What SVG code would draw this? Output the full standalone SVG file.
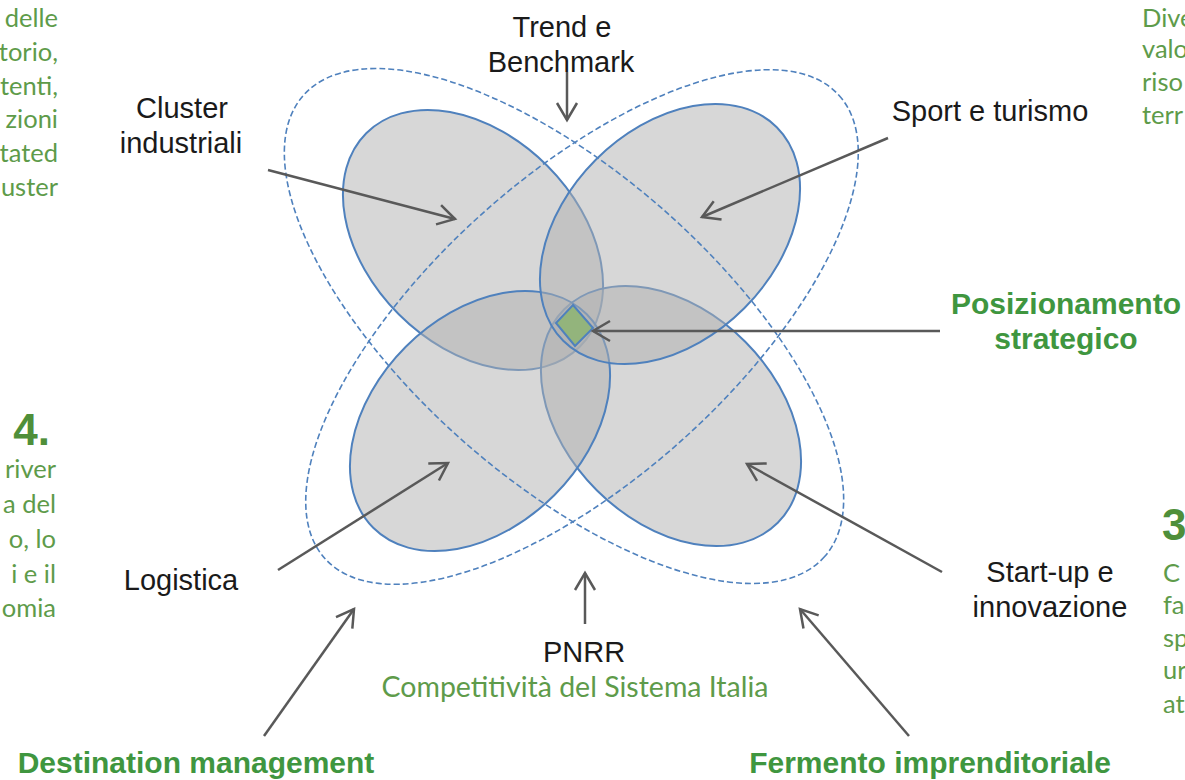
<svg xmlns="http://www.w3.org/2000/svg" width="1185" height="780" viewBox="0 0 1185 780">
<defs>
<marker id="ah" markerUnits="userSpaceOnUse" markerWidth="26" markerHeight="30" viewBox="-21 -15 26 30" refX="0" refY="0" orient="auto">
<path d="M-17,-10 L0,0 L-17,10" fill="none" stroke="#595959" stroke-width="2.5"/>
</marker>
<filter id="sh" x="-10%" y="-10%" width="120%" height="120%">
<feDropShadow dx="1" dy="2" stdDeviation="2" flood-color="#000000" flood-opacity="0.15"/>
</filter>
<style>
.petal{fill:#b0b0b0;fill-opacity:.5;stroke:#4f81bd;stroke-width:2}
.dash{fill:none;stroke:#4f81bd;stroke-width:1.6;stroke-dasharray:6 3}
.lbl{font-family:"Liberation Sans",Arial,sans-serif;font-size:29px;fill:#1a1a1a;text-anchor:middle}
.bold{font-family:"Liberation Sans",Arial,sans-serif;font-size:30px;font-weight:bold;fill:#3f963f;text-anchor:middle}
.side{font-family:Lato,"Open Sans",sans-serif;font-size:25.5px;fill:#5e9b4a}
.num{font-family:"Liberation Sans",Arial,sans-serif;font-size:44px;font-weight:bold;fill:#4f8f3a}
.conn{stroke:#595959;stroke-width:2.5;fill:none;marker-end:url(#ah)}
</style>
</defs>
<rect width="1185" height="780" fill="#ffffff"/>

<g id="petal-cluster"><ellipse class="petal" cx="473" cy="240" rx="151" ry="105" transform="rotate(45 473 240)"/></g>
<g id="petal-startup"><ellipse class="petal" cx="671" cy="416" rx="151" ry="105" transform="rotate(45 671 416)"/></g>
<g id="petal-logistica"><ellipse class="petal" cx="480" cy="421" rx="151" ry="105" transform="rotate(-45 480 421)"/></g>
<g id="petal-sport"><ellipse class="petal" cx="670" cy="234" rx="151" ry="105" transform="rotate(-45 670 234)"/></g>

<g id="outer-nwse"><ellipse class="dash" cx="564" cy="326" rx="348" ry="153" transform="rotate(41.5 564 326)"/></g>
<g id="outer-nesw"><ellipse class="dash" cx="582" cy="327" rx="346" ry="151" transform="rotate(-42 582 327)"/></g>

<g id="core"><polygon points="573,305 593,328 575,346 556,323" fill="#93b47c" stroke="#4f81bd" stroke-width="2"/></g>

<g id="connectors">
<path class="conn" d="M268,170 L455,219"/>
<path class="conn" d="M888,138 L702,217"/>
<path class="conn" d="M567,72 L567,120"/>
<path class="conn" d="M940,331 L593,331"/>
<path class="conn" d="M278,570 L448,463"/>
<path class="conn" d="M942,572 L747,464"/>
<path class="conn" d="M585,624 L585,573"/>
<path class="conn" d="M264,736 L354,609"/>
<path class="conn" d="M909,736 L800,609"/>
</g>

<g id="label-trend"><text class="lbl" x="562" y="37">Trend e</text><text class="lbl" x="561" y="72">Benchmark</text></g>
<g id="label-cluster"><text class="lbl" x="182" y="118">Cluster</text><text class="lbl" x="181" y="153">industriali</text></g>
<g id="label-sport"><text class="lbl" x="990" y="121">Sport e turismo</text></g>
<g id="label-posizionamento"><text class="bold" x="1066" y="314">Posizionamento</text><text class="bold" x="1066" y="349">strategico</text></g>
<g id="label-logistica"><text class="lbl" x="181" y="590">Logistica</text></g>
<g id="label-startup"><text class="lbl" x="1050" y="582">Start-up e</text><text class="lbl" x="1050" y="617">innovazione</text></g>
<g id="label-pnrr"><text class="lbl" x="584" y="662">PNRR</text><text class="side" x="575" y="697" text-anchor="middle" style="font-size:28.5px">Competitività del Sistema Italia</text></g>
<g id="label-destination"><text class="bold" x="196" y="773">Destination management</text></g>
<g id="label-fermento"><text class="bold" x="930" y="773">Fermento imprenditoriale</text></g>

<g id="side-left-top" class="side" text-anchor="end">
<text x="58" y="27">delle</text><text x="58" y="61">torio,</text><text x="58" y="95">tenti,</text><text x="58" y="128">zioni</text><text x="58" y="162">tated</text><text x="58" y="196">uster</text>
</g>
<g id="side-left-mid">
<text class="num" x="50" y="445" text-anchor="end">4.</text>
<g class="side" text-anchor="end"><text x="56" y="478">river</text><text x="56" y="513">a del</text><text x="56" y="548">o, lo</text><text x="56" y="583">i e il</text><text x="56" y="617">omia</text></g>
</g>
<g id="side-right-top" class="side">
<text x="1142" y="27">Dive</text><text x="1142" y="58">valo</text><text x="1142" y="91">riso</text><text x="1142" y="124">terr</text>
</g>
<g id="side-right-bottom">
<text class="num" x="1162" y="540">3</text>
<g class="side"><text x="1163" y="582">C</text><text x="1163" y="614">fa</text><text x="1163" y="647">sp</text><text x="1163" y="679">ur</text><text x="1163" y="713">at</text></g>
</g>
</svg>
